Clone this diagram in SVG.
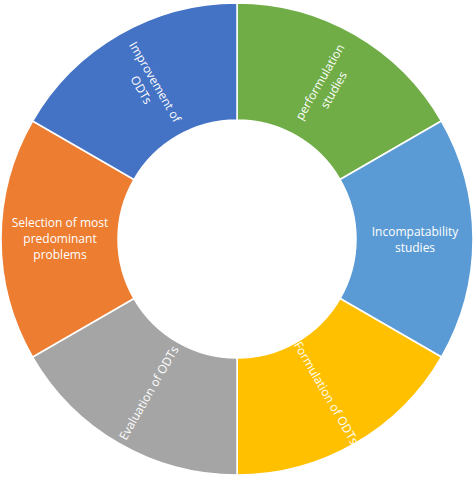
<svg xmlns="http://www.w3.org/2000/svg" width="474" height="478" viewBox="0 0 474 478">
<style>
.seg{stroke:#ffffff;stroke-width:1.5;stroke-linejoin:round}
.lbl{font-family:"Open Sans","Liberation Sans",sans-serif;font-size:12px;fill:#ffffff;text-anchor:middle}
</style>
<rect width="474" height="478" fill="#ffffff"/>
<g id="seg-performulation">
<path class="seg" fill="#70AD47" d="M237,3 A236,236 0 0 1 441.38,121 L340.06,179.5 A119,119 0 0 0 237,120 Z"/>
<text class="lbl" transform="translate(327,86) rotate(-60)"><tspan x="0" y="-4">performulation</tspan><tspan x="0" y="12">studies</tspan></text>
</g>
<g id="seg-incompatability">
<path class="seg" fill="#5B9BD5" d="M441.38,121 A236,236 0 0 1 441.38,357 L340.06,298.5 A119,119 0 0 0 340.06,179.5 Z"/>
<text class="lbl"><tspan x="415" y="235.5">Incompatability</tspan><tspan x="415" y="251.5">studies</tspan></text>
</g>
<g id="seg-formulation">
<path class="seg" fill="#FFC000" d="M441.38,357 A236,236 0 0 1 237,475 L237,358 A119,119 0 0 0 340.06,298.5 Z"/>
<text class="lbl" transform="translate(326,393) rotate(60)" x="0" y="4">Formulation of ODTs</text>
</g>
<g id="seg-evaluation">
<path class="seg" fill="#A5A5A5" d="M237,475 A236,236 0 0 1 32.62,357 L133.94,298.5 A119,119 0 0 0 237,358 Z"/>
<text class="lbl" transform="translate(149,393) rotate(-60)" x="0" y="4">Evaluation of ODTs</text>
</g>
<g id="seg-selection">
<path class="seg" fill="#ED7D31" d="M32.62,357 A236,236 0 0 1 32.62,121 L133.94,179.5 A119,119 0 0 0 133.94,298.5 Z"/>
<text class="lbl"><tspan x="60" y="226.5">Selection of most</tspan><tspan x="60" y="242.5">predominant</tspan><tspan x="60" y="258.5">problems</tspan></text>
</g>
<g id="seg-improvement">
<path class="seg" fill="#4472C4" d="M32.62,121 A236,236 0 0 1 237,3 L237,120 A119,119 0 0 0 133.94,179.5 Z"/>
<text class="lbl" transform="translate(148,86) rotate(60)"><tspan x="0" y="-4">Improvement of</tspan><tspan x="0" y="12">ODTs</tspan></text>
</g>
<g id="connectors"/>
</svg>
